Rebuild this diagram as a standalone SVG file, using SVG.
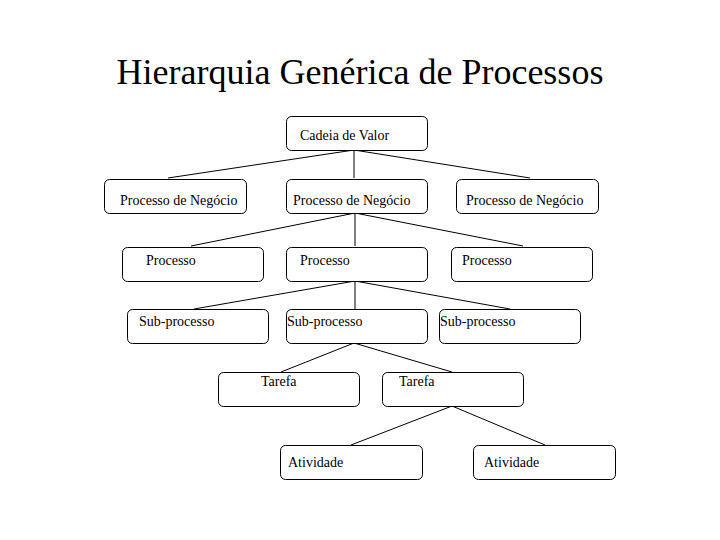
<svg xmlns="http://www.w3.org/2000/svg" width="720" height="540" viewBox="0 0 720 540">
<style>
.box{fill:#fff;stroke:#000;stroke-width:1}
.t{font-family:"Liberation Serif","Times New Roman",serif;font-size:14px;fill:#000}
.title{font-family:"Liberation Serif","Times New Roman",serif;font-size:36px;fill:#000}
.c{fill:none;stroke:#000;stroke-width:1}
</style>
<rect width="720" height="540" fill="#fff"/>
<text class="title" x="360" y="84" text-anchor="middle">Hierarquia Genérica de Processos</text>
<g id="connectors">
<path class="c" d="M354,150 L168,178 M354,150 L354,178 M354,150 L530,178"/>
<path class="c" d="M355,213 L191,246 M355,213 L355,246 M355,213 L523,246"/>
<path class="c" d="M355,281 L194,309 M355,281 L355,309 M355,281 L510,309"/>
<path class="c" d="M354,343 L281,372 M354,343 L452,372"/>
<path class="c" d="M452,406 L351,445 M452,406 L545,445"/>
</g>
<g id="n-cadeia"><rect class="box" x="286.5" y="116.5" width="141" height="34" rx="5"/><text class="t" x="300" y="140">Cadeia de Valor</text></g>
<g id="n-pn1"><rect class="box" x="104.5" y="179.5" width="142" height="34" rx="5"/><text class="t" x="120" y="205">Processo de Negócio</text></g>
<g id="n-pn2"><rect class="box" x="286.5" y="179.5" width="141" height="34" rx="5"/><text class="t" x="293" y="205">Processo de Negócio</text></g>
<g id="n-pn3"><rect class="box" x="456.5" y="179.5" width="142" height="34" rx="5"/><text class="t" x="466" y="205">Processo de Negócio</text></g>
<g id="n-p1"><rect class="box" x="122.5" y="247.5" width="141" height="34" rx="5"/><text class="t" x="146" y="265">Processo</text></g>
<g id="n-p2"><rect class="box" x="286.5" y="247.5" width="141" height="34" rx="5"/><text class="t" x="300" y="265">Processo</text></g>
<g id="n-p3"><rect class="box" x="451.5" y="247.5" width="141" height="34" rx="5"/><text class="t" x="462" y="265">Processo</text></g>
<g id="n-s1"><rect class="box" x="127.5" y="309.5" width="141" height="34" rx="5"/><text class="t" x="139" y="326">Sub-processo</text></g>
<g id="n-s2"><rect class="box" x="286.5" y="309.5" width="141" height="34" rx="5"/><text class="t" x="287" y="326">Sub-processo</text></g>
<g id="n-s3"><rect class="box" x="439.5" y="309.5" width="141" height="34" rx="5"/><text class="t" x="440" y="326">Sub-processo</text></g>
<g id="n-t1"><rect class="box" x="218.5" y="372.5" width="141" height="34" rx="5"/><text class="t" x="261" y="386">Tarefa</text></g>
<g id="n-t2"><rect class="box" x="382.5" y="372.5" width="141" height="34" rx="5"/><text class="t" x="399" y="386">Tarefa</text></g>
<g id="n-a1"><rect class="box" x="280.5" y="445.5" width="142" height="34" rx="5"/><text class="t" x="288" y="467">Atividade</text></g>
<g id="n-a2"><rect class="box" x="473.5" y="445.5" width="142" height="34" rx="5"/><text class="t" x="484" y="467">Atividade</text></g>
</svg>
